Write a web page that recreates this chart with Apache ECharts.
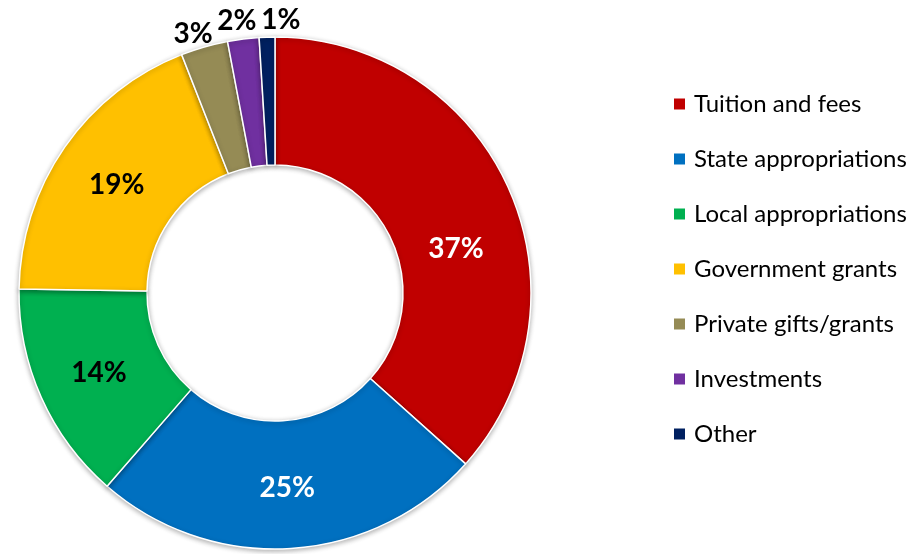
<!DOCTYPE html>
<html>
<head>
<meta charset="utf-8">
<script src="https://cdn.jsdelivr.net/npm/echarts@6/dist/echarts.min.js"></script>
<style>
  html, body { margin: 0; padding: 0; background: #fff; }
  #chart { width: 920px; height: 554px; }
</style>
</head>
<body>
<div id="chart"></div>
<script>
// Revenue sources, percent of total
const categories = [
  'Tuition and fees',
  'State appropriations',
  'Local appropriations',
  'Government grants',
  'Private gifts/grants',
  'Investments',
  'Other'
];
const shares = [37, 25, 14, 19, 3, 2, 1];

const sliceColors = ['#C00000', '#0070C0', '#00B050', '#FFC000', '#958B55', '#7030A0', '#002060'];
const labelColors = ['#FFFFFF', '#FFFFFF', '#000000', '#000000', '#000000', '#000000', '#000000'];
// small nudges applied to each label after ECharts places it
const labelNudge = [
  { dx: 3, dy: 35 },
  { dx: 0, dy: 0 },
  { dx: 2, dy: 0 },
  { dx: 2, dy: 3 },
  { dx: -28, dy: -72 },
  { dx: -14, dy: -79 },
  { dx: 12, dy: -78 }
];

const chart = echarts.init(document.getElementById('chart'), null, { renderer: 'canvas' });

const pieData = categories.map((name, i) => ({
  name: name,
  value: shares[i],
  itemStyle: { color: sliceColors[i] },
  label: { color: labelColors[i] }
}));

chart.setOption({
  animation: false,
  backgroundColor: '#FFFFFF',
  legend: {
    orient: 'vertical',
    left: 667,
    top: 86,
    itemWidth: 13,
    itemHeight: 13,
    itemGap: 29,
    icon: 'rect',
    data: categories,
    textStyle: {
      fontFamily: 'Lato',
      fontSize: 24,
      lineHeight: 26,
      color: '#000000',
      padding: [0, 0, 0, 3]
    }
  },
  series: [{
    type: 'pie',
    center: [275, 293],
    radius: [128, 256],
    startAngle: 90,
    clockwise: true,
    avoidLabelOverlap: false,
    itemStyle: {
      borderColor: '#FFFFFF',
      borderWidth: 1.5,
      shadowBlur: 5,
      shadowOffsetY: 1.5,
      shadowColor: 'rgba(0,0,0,0.3)'
    },
    emphasis: { disabled: true },
    label: {
      show: true,
      position: 'inside',
      formatter: p => p.value + '%',
      fontFamily: 'Lato',
      fontWeight: 'bold',
      fontSize: 28
    },
    labelLine: { show: false },
    labelLayout: p => labelNudge[p.dataIndex],
    data: pieData
  }]
});
</script>
</body>
</html>
